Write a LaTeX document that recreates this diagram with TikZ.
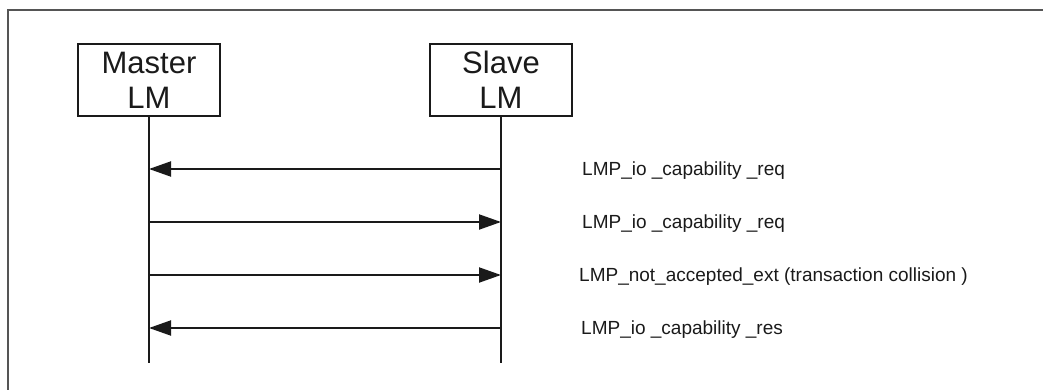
\documentclass[tikz,border=0pt]{standalone}
\usepackage{fontspec}
\setmainfont{Liberation Sans}
\usetikzlibrary{arrows.meta}
\definecolor{framegray}{HTML}{555555}
\definecolor{ink}{HTML}{1A1A1A}
\tikzset{
  lmbox/.style={draw=ink, line width=1.4pt, minimum width=142pt, minimum height=72pt,
    inner sep=0pt, align=center, font=\fontsize{31pt}{35pt}\selectfont, text=ink},
  lifeline/.style={draw=ink, line width=1.1pt},
  msg/.style={draw=ink, line width=2pt, -{Triangle[length=22pt,width=15pt]}},
  msglabel/.style={anchor=base west, inner sep=0pt, font=\fontsize{19pt}{22pt}\selectfont, text=ink},
  frameline/.style={draw=framegray, line width=2pt}
}
\begin{document}
\begin{tikzpicture}[x=1pt,y=1pt]
\useasboundingbox (0,0) rectangle (1043,-390);
% frame
\coordinate (fa) at (8,-390);
\coordinate (fb) at (8,-10);
\coordinate (fc) at (1043,-10);
\draw[frameline] (fa) -- (fb) -- (fc);
% boxes
\node[lmbox] (master) at (149,-80) {Master\\LM};
\node[lmbox] (slave) at (501,-80) {Slave\\LM};
% lifeline ends
\coordinate (mend) at (149,-363);
\coordinate (send) at (501,-363);
\draw[lifeline] (master.south) -- (mend);
\draw[lifeline] (slave.south) -- (send);
% message points
\foreach \i/\y in {1/169,2/222,3/275,4/328}{
  \coordinate (m\i) at (149,-\y);
  \coordinate (s\i) at (501,-\y);
}
\draw[msg] (s1) -- (m1);
\draw[msg] (m2) -- (s2);
\draw[msg] (m3) -- (s3);
\draw[msg] (s4) -- (m4);
% labels
\node[msglabel] (l1) at (582,-175.5) {LMP\_io \_capability \_req};
\node[msglabel] (l2) at (582,-228) {LMP\_io \_capability \_req};
\node[msglabel] (l3) at (579,-281) {LMP\_not\_accepted\_ext (transaction collision )};
\node[msglabel] (l4) at (581,-334) {LMP\_io \_capability \_res};
\end{tikzpicture}
\end{document}
